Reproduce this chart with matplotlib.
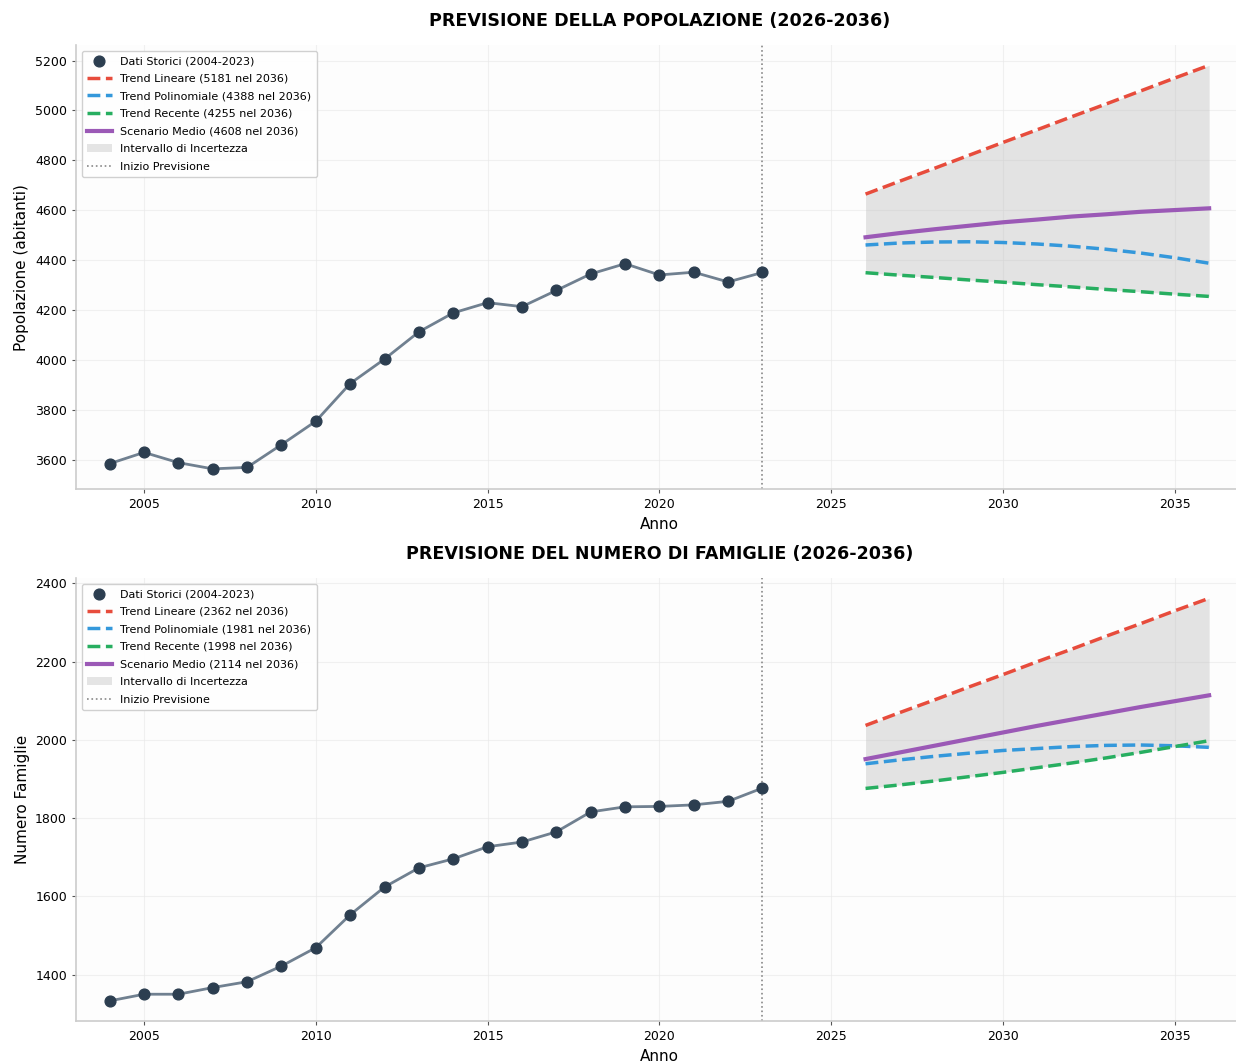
import matplotlib
matplotlib.use("Agg")
import matplotlib.pyplot as plt
import numpy as np

years_hist = list(range(2004, 2024))
years_fc = list(range(2026, 2037))

pop_hist = [3585, 3630, 3589, 3564, 3570, 3661, 3755, 3906, 4004, 4113,
            4189, 4230, 4214, 4279, 4345, 4386, 4341, 4352, 4313, 4351]
pop_lin = [4665, 4717, 4768, 4820, 4872, 4923, 4975, 5026, 5078, 5130, 5181]
pop_poly = [4461, 4469, 4473, 4474, 4471, 4465, 4456, 4444, 4429, 4410, 4388]
pop_rec = [4350, 4340, 4331, 4321, 4312, 4302, 4293, 4283, 4274, 4264, 4255]
pop_med = [4492, 4509, 4524, 4538, 4552, 4563, 4575, 4584, 4594, 4601, 4608]

fam_hist = [1333, 1350, 1350, 1367, 1382, 1422, 1469, 1553, 1624, 1673,
            1696, 1727, 1739, 1765, 1816, 1829, 1830, 1834, 1843, 1877]
fam_lin = [2037, 2070, 2102, 2135, 2167, 2200, 2232, 2265, 2297, 2330, 2362]
fam_poly = [1939, 1949, 1958, 1966, 1973, 1978, 1983, 1986, 1987, 1985, 1981]
fam_rec = [1876, 1885, 1895, 1906, 1917, 1929, 1941, 1954, 1968, 1983, 1998]
fam_med = [1951, 1968, 1985, 2002, 2019, 2036, 2052, 2068, 2084, 2099, 2114]

titles = ["PREVISIONE DELLA POPOLAZIONE (2026-2036)",
          "PREVISIONE DEL NUMERO DI FAMIGLIE (2026-2036)"]
ylabels = ["Popolazione (abitanti)", "Numero Famiglie"]
yticks = [[3600, 3800, 4000, 4200, 4400, 4600, 4800, 5000, 5200],
          [1400, 1600, 1800, 2000, 2200, 2400]]

fig = plt.figure(figsize=(12.36, 10.62), dpi=100)
positions = [[0.0615, 0.5395, 0.944, 0.418], [0.0615, 0.0386, 0.944, 0.417]]

datasets = [(pop_hist, pop_lin, pop_poly, pop_rec, pop_med),
            (fam_hist, fam_lin, fam_poly, fam_rec, fam_med)]

for i, (hist, lin, poly, rec, med) in enumerate(datasets):
    ax = fig.add_axes(positions[i])
    ax.set_facecolor("#fdfdfd")
    ax.grid(True, color="#e8e8e8", linewidth=0.8, alpha=0.6)
    ax.set_axisbelow(True)
    ax.plot(years_hist, hist, color="#708090", linewidth=2, zorder=3)
    ax.scatter(years_hist, hist, color="#2c3e50", s=60, zorder=4,
               label="Dati Storici (2004-2023)")
    ax.plot(years_fc, lin, color="#e74c3c", linestyle="--", linewidth=2.5,
            label=f"Trend Lineare ({lin[-1]} nel 2036)", zorder=3)
    ax.plot(years_fc, poly, color="#3498db", linestyle="--", linewidth=2.5,
            label=f"Trend Polinomiale ({poly[-1]} nel 2036)", zorder=3)
    ax.plot(years_fc, rec, color="#27ae60", linestyle="--", linewidth=2.5,
            label=f"Trend Recente ({rec[-1]} nel 2036)", zorder=3)
    ax.plot(years_fc, med, color="#9b59b6", linestyle="-", linewidth=3,
            label=f"Scenario Medio ({med[-1]} nel 2036)", zorder=3)
    arr = np.array([lin, poly, rec])
    ax.fill_between(years_fc, arr.min(axis=0), arr.max(axis=0),
                    color="#bdbdbd", alpha=0.4, label="Intervallo di Incertezza",
                    zorder=2, linewidth=0)
    ax.axvline(2023, color="#888888", linestyle=":", linewidth=1.2,
               label="Inizio Previsione", zorder=2)
    ax.set_xlim(2003.02, 2036.98)
    ax.set_xticks([2005, 2010, 2015, 2020, 2025, 2030, 2035])
    ax.set_yticks(yticks[i])
    ax.margins(y=0.05)
    ax.set_title(titles[i], fontsize=12.6, fontweight="bold", pad=14)
    ax.set_xlabel("Anno", fontsize=11)
    ax.set_ylabel(ylabels[i], fontsize=11)
    ax.tick_params(labelsize=9, length=3, color="#555555")
    for s in ["top", "right"]:
        ax.spines[s].set_visible(False)
    for s in ["left", "bottom"]:
        ax.spines[s].set_color("#cccccc")
        ax.spines[s].set_linewidth(1.2)
    ax.legend(loc="upper left", fontsize=8, frameon=True, framealpha=0.9,
              edgecolor="#cccccc", borderpad=0.5, labelspacing=0.68,
              handlelength=2.2)

fig.savefig("out.png", dpi=100)
